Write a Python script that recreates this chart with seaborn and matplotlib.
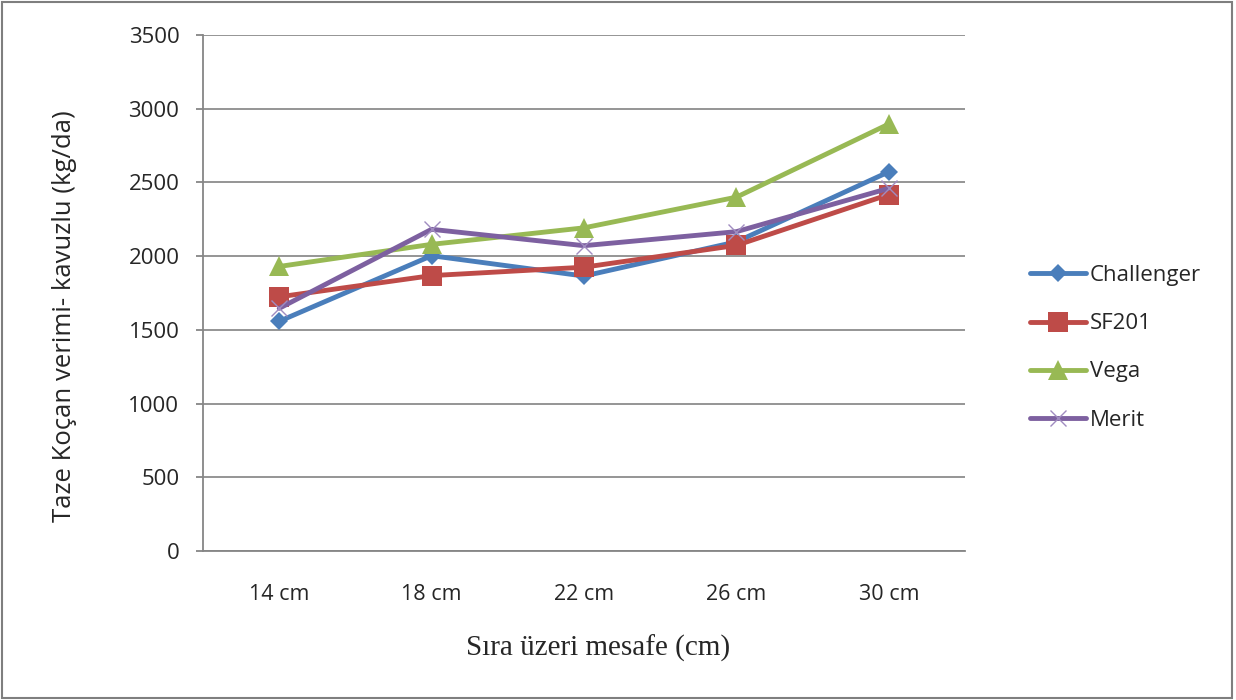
import pandas as pd
import seaborn as sns
import matplotlib.pyplot as plt
from matplotlib.patches import Rectangle

# Row spacing categories and yields per variety (kg/da)
mesafe = ['14 cm', '18 cm', '22 cm', '26 cm', '30 cm']
challenger = [1558, 2003, 1865, 2097, 2572]
sf201 = [1724, 1868, 1925, 2073, 2418]
vega = [1930, 2080, 2192, 2400, 2896]
merit = [1646, 2182, 2071, 2166, 2460]

cesitler = ['Challenger', 'SF201', 'Vega', 'Merit']
renkler = ['#4A7EBB', '#BE4B48', '#98B954', '#7D60A0']
isaretler = ['D', 's', '^', 'x']

df = pd.DataFrame({
    'mesafe': mesafe * 4,
    'verim': challenger + sf201 + vega + merit,
    'cesit': [c for c in cesitler for _ in mesafe],
})

sns.set_style('white')
plt.rcParams['font.family'] = ['Open Sans', 'DejaVu Sans']

fig = plt.figure(figsize=(12.36, 7), dpi=100)
ax = fig.add_axes([203 / 1236, 149 / 700, 762 / 1236, 516 / 700])

# marker sizes per variety (pt)
boyut = {'D': 9.5, 's': 14, '^': 14, 'x': 11.5}

# one call per variety (filled and line markers can't be mixed in one style map)
for cesit, renk, isaret in zip(cesitler, renkler, isaretler):
    kw = dict(markersize=boyut[isaret], markeredgewidth=0)
    if isaret == 'x':
        kw = dict(markersize=boyut[isaret], markeredgewidth=1.0,
                  markeredgecolor='#A08CC0')
    sns.lineplot(data=df[df.cesit == cesit], x='mesafe', y='verim',
                 color=renk, marker=isaret, linewidth=3.5, sort=False,
                 label=cesit, ax=ax, **kw)

ax.set_xlim(-0.5, 4.5)
ax.set_ylim(0, 3500)
ax.set_yticks(range(0, 3501, 500))
ax.yaxis.grid(True, color='#8C8C8C', linewidth=1.3)
ax.set_axisbelow(True)

for s in ['top', 'right']:
    ax.spines[s].set_visible(False)
for s in ['left', 'bottom']:
    ax.spines[s].set_color('#868686')
    ax.spines[s].set_linewidth(1.3)

ax.set_xticks([i - 0.5 for i in range(6)], minor=True)
ax.tick_params(axis='x', which='major', length=0, pad=24, labelsize=15.5)
ax.tick_params(axis='x', which='minor', length=7, color='#868686', width=1.3)
ax.tick_params(axis='y', which='major', left=True, length=5, color='#868686',
               width=1.3, labelsize=16, pad=12)

ax.set_xlabel('Sıra üzeri mesafe (cm)', fontfamily='Liberation Serif',
              fontsize=21)
ax.xaxis.set_label_coords(0.518, -0.162)
ax.set_ylabel('Taze Koçan verimi- kavuzlu (kg/da)', fontsize=18.5)
ax.yaxis.set_label_coords(-0.166, 0.455)

handles, labels = ax.get_legend_handles_labels()
ax.legend(handles, labels, loc='center left', bbox_to_anchor=(1030 / 1236, 0.503),
          bbox_transform=fig.transFigure, frameon=False, fontsize=16,
          handlelength=2.5, handletextpad=0.2, labelspacing=1.22,
          borderpad=0, borderaxespad=0)

fig.add_artist(Rectangle((0.002, 0.003), 0.995, 0.994, transform=fig.transFigure,
                         fill=False, edgecolor='#7F7F7F', linewidth=1.5))

fig.savefig('out.png', dpi=100)
